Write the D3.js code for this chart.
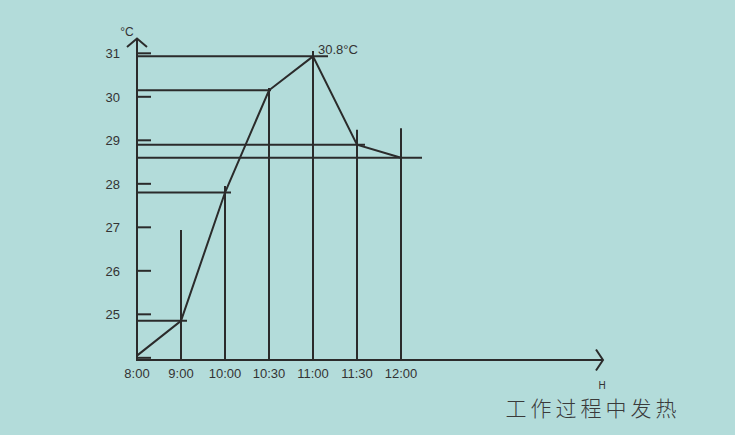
<!DOCTYPE html>
<html><head><meta charset="utf-8">
<script src="https://cdn.jsdelivr.net/npm/d3@7"></script>
<style>html,body{margin:0;padding:0;background:#b3dcda;}svg{display:block;}</style>
</head><body>
<script>
// Data
const times = ["8:00","9:00","10:00","10:30","11:00","11:30","12:00"];
const temps = [24.05, 24.85, 27.8, 30.15, 30.93, 28.9, 28.6];
const guideTops = [null, 26.94, 27.95, 30.2, 31.05, 29.24, 29.28];
const yTicks = [24, 25, 26, 27, 28, 29, 30, 31];
const yTickLabels = ["", "25", "26", "27", "28", "29", "30", "31"];
const peakLabel = "30.8°C";
const yUnit = "°C";
const xUnit = "H";
const title = "工作过程中发热";

// Style
const hExt = [0, 6, 6, 2, 15, 8, 21];
const W = 735, H = 435;
const ink = "#2b2b2b";

const svg = d3.select("body").append("svg").attr("width", W).attr("height", H);
svg.append("rect").attr("width", W).attr("height", H).attr("fill", "#b3dcda");

const x = d3.scalePoint().domain(times).range([137, 401]);
const y = d3.scaleLinear().domain([23.95, 31]).range([360, 53.3]);
const x0 = 137, y0 = 360;

const g = svg.append("g").attr("stroke", ink).attr("stroke-width", 2).attr("fill", "none");

// y ticks (inside)
g.selectAll(".yt").data(yTicks).enter().append("line")
  .attr("x1", x0).attr("x2", x0 + 14)
  .attr("y1", d => y(d)).attr("y2", d => y(d));

// horizontal guide lines
g.selectAll(".hg").data(times.slice(1)).enter().append("line")
  .attr("x1", x0)
  .attr("x2", (d, i) => x(d) + hExt[i + 1])
  .attr("y1", (d, i) => y(temps[i + 1]))
  .attr("y2", (d, i) => y(temps[i + 1]));

// vertical guide lines
g.selectAll(".vg").data(times.slice(1)).enter().append("line")
  .attr("x1", d => x(d)).attr("x2", d => x(d))
  .attr("y1", y0)
  .attr("y2", (d, i) => y(guideTops[i + 1]));

// data line
const line = d3.line().x(d => x(d[0])).y(d => y(d[1]));
g.append("path").datum(times.map((t, i) => [t, temps[i]])).attr("d", line)
  .attr("stroke-linejoin", "miter");

// axes
g.append("line").attr("x1", x0).attr("x2", x0).attr("y1", y0).attr("y2", 38.5);
g.append("path").attr("d", `M${x0 - 10},47 L${x0},38.5 L${x0 + 10},47`);
g.append("line").attr("x1", x0 - 1).attr("x2", 602).attr("y1", y0).attr("y2", y0);
g.append("path").attr("d", `M596,349.5 L603,360 L596,370.5`);

// text
const font = "'Liberation Sans', Arial, sans-serif";
svg.selectAll(".yl").data(yTicks).enter().append("text")
  .attr("x", 120).attr("y", d => y(d) + 5)
  .attr("text-anchor", "end").attr("font-family", font).attr("font-size", 13)
  .attr("fill", "#333").text((d, i) => yTickLabels[i]);

svg.selectAll(".xl").data(times).enter().append("text")
  .attr("x", d => x(d)).attr("y", 378)
  .attr("text-anchor", "middle").attr("font-family", font).attr("font-size", 13)
  .attr("fill", "#333").text(d => d);

svg.append("text").attr("x", 318).attr("y", 54).attr("font-family", font)
  .attr("font-size", 13).attr("fill", "#333").text(peakLabel);
svg.append("text").attr("x", 127).attr("y", 36).attr("text-anchor", "middle").attr("font-family", font)
  .attr("font-size", 12).attr("fill", "#333").text(yUnit);
svg.append("text").attr("x", 602).attr("y", 389).attr("text-anchor", "middle").attr("font-family", font)
  .attr("font-size", 10).attr("fill", "#333").text(xUnit);
svg.append("text").attr("x", 593).attr("y", 416).attr("text-anchor", "middle")
  .attr("font-family", "'Noto Sans CJK SC', sans-serif").attr("font-weight", 300)
  .attr("font-size", 21).attr("letter-spacing", 4).attr("fill", "#3a3a3a").text(title);
</script>
</body></html>
